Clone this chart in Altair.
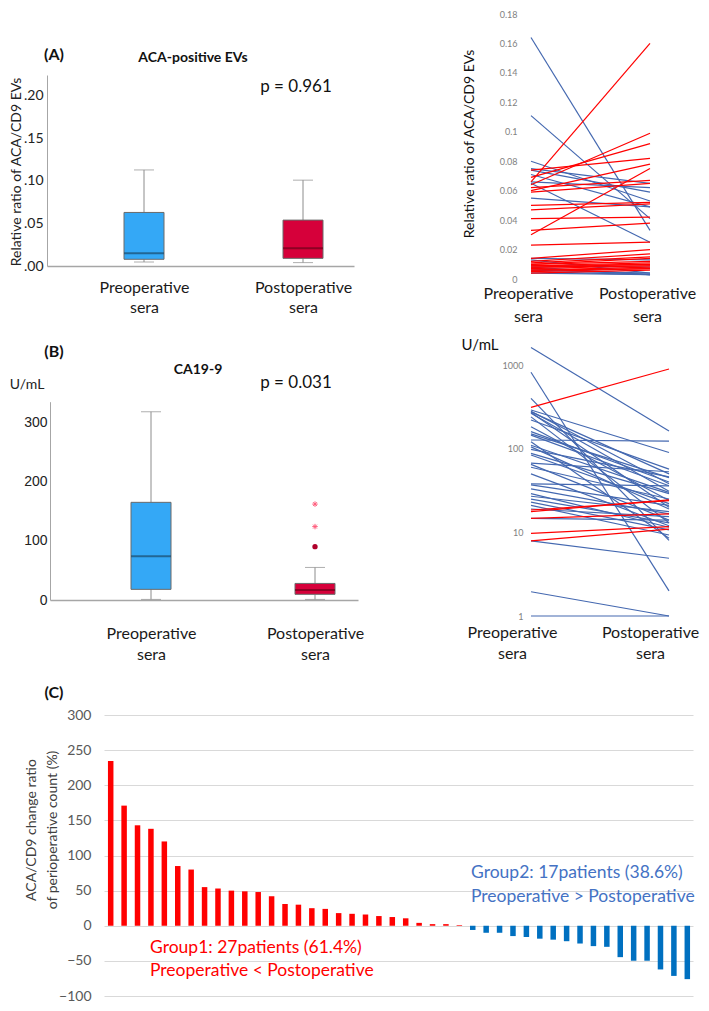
import altair as alt
import pandas as pd

# ---------------- canvas ----------------
W, H = 693, 995
OX, OY = 8, 8


def px(x):
    return x - OX


def py(y):
    return y - OY


FONT = "Lato"
NUMFONT = "Liberation Sans"

# ---------------- data ----------------
groups = ["Preoperative sera", "Postoperative sera"]

# (A) box plot summary of ACA/CD9 ratio
aca_low = [0.0047, 0.0040]
aca_q1 = [0.0079, 0.0090]
aca_median = [0.0150, 0.0210]
aca_q3 = [0.0630, 0.0540]
aca_high = [0.1130, 0.1010]

# (B) box plot summary of CA19-9
ca_low = [1, 1]
ca_q1 = [18, 9.6]
ca_median = [74, 17]
ca_q3 = [165, 28]
ca_high = [318, 55]
ca_outlier_circle = [90]
ca_outlier_star = [124, 162]

# (A) paired lines: increased (red) / decreased (blue)
aca_up_pre = [0.066, 0.064, 0.069, 0.074, 0.060, 0.030, 0.062, 0.059, 0.050, 0.047,
              0.041, 0.033, 0.023, 0.014, 0.012, 0.011, 0.010, 0.010, 0.009, 0.009,
              0.008, 0.008, 0.007, 0.006, 0.006, 0.005, 0.004]
aca_up_post = [0.160, 0.099, 0.092, 0.082, 0.078, 0.075, 0.067, 0.065, 0.052, 0.051,
               0.042, 0.038, 0.025, 0.020, 0.017, 0.015, 0.014, 0.012, 0.011, 0.010,
               0.010, 0.009, 0.009, 0.008, 0.007, 0.007, 0.006]
aca_down_pre = [0.164, 0.111, 0.080, 0.075, 0.074, 0.071, 0.066, 0.065, 0.055, 0.014,
                0.013, 0.009, 0.008, 0.007, 0.006, 0.005, 0.004]
aca_down_post = [0.033, 0.041, 0.053, 0.065, 0.059, 0.049, 0.062, 0.025, 0.049, 0.013,
                 0.004, 0.008, 0.003, 0.003, 0.004, 0.003, 0.003]

# (B) paired lines of CA19-9 (U/mL)
ca_up_pre = [312, 18.5, 17.7, 14.7, 9.7, 7.9]
ca_up_post = [896, 23.9, 24.4, 16.6, 11.7, 10.9]
ca_down_pre = [1620, 820, 400, 290, 280, 275, 270, 265, 240, 220,
               183, 160, 150, 145, 127, 121, 110, 105, 98, 88,
               84, 67, 65, 60, 50, 38, 37, 33, 29, 27,
               25, 23, 21, 19, 14.7, 7.9, 1.95, 1]
ca_down_post = [163, 2, 8, 90, 38, 50, 20, 31, 13, 57,
                24, 40, 45, 36, 123, 8.5, 30, 19, 46, 29,
                22, 53, 14, 25, 12, 36, 21, 16.6, 11.5, 17.7,
                13, 10.7, 9.3, 15.4, 14, 4.9, 1, 1]

# (C) change ratio (%) per patient
change_group1 = [234.6, 171, 143, 138, 120, 85, 80, 55, 53, 50,
                 49, 48, 42, 31, 30, 25, 24, 18, 17, 16,
                 13.8, 12.4, 10.6, 4.1, 2.3, 2.3, 0.9]
change_group2 = [-6, -10, -10, -14.7, -16, -18.4, -19.8, -22, -25.3, -29,
                 -30, -44.7, -49.8, -49.8, -62.2, -71.4, -76]

aca_ticks = [0, 0.05, 0.10, 0.15, 0.20]
aca_line_ticks = [0, 0.02, 0.04, 0.06, 0.08, 0.1, 0.12, 0.14, 0.16, 0.18]
ca_ticks = [0, 100, 200, 300]
ca_log_ticks = [1, 10, 100, 1000]
change_ticks = [-100, -50, 0, 50, 100, 150, 200, 250, 300]

# ---------------- colours ----------------
BOX_BLUE = "#34A8F6"
BOX_RED = "#D6003A"
MED_BLUE = "#1B4A6B"
MED_RED = "#6E0019"
WHISK = "#8C8C8C"
AXIS_GREY = "#A6A6A6"
LINE_RED = "#FF0000"
LINE_BLUE = "#4468B0"
BAR_RED = "#FF0000"
BAR_BLUE = "#0070C0"
TXT_BLUE = "#4472C4"

ANNOT = pd.DataFrame({"k": [0]})


# ---------------- helpers ----------------
def point_scale(domain, start, stop, first, last):
    n = len(domain)
    step = (last - first) / (n - 1)
    outer = (stop - start) - (last - first)
    if outer <= 0:
        return alt.Scale(type="point", domain=domain, range=[start, stop], padding=0, round=False)
    return alt.Scale(type="point", domain=domain, range=[start, stop],
                     padding=outer / (2 * step), align=(first - start) / outer, round=False)


def x_cat_axis(axis_y, pad, line_h, domain=False, size=16, shift=0):
    kw = dict(orient="bottom", offset=axis_y - H, ticks=False, tickSize=0,
              labelPadding=pad, labelExpr="split(datum.label, ' ')",
              labelFontSize=size, labelLineHeight=line_h, labelColor="#1A1A1A",
              labelFont=FONT, labelAngle=0, title=None, grid=False, domain=domain,
              labelOffset=shift)
    if domain:
        kw.update(domainColor=AXIS_GREY, domainWidth=1.5)
    return alt.Axis(**kw)


def note(text, x, y, size, color="#111111", bold=False, angle=0, align="center",
         font=FONT, line_height=None):
    kw = dict(text=text, fontSize=size, color=color, font=font,
              fontWeight="bold" if bold else "normal", align=align, baseline="middle")
    if angle:
        kw["angle"] = angle
    if line_height:
        kw["lineHeight"] = line_height
    return alt.Chart(ANNOT).mark_text(**kw).encode(x=alt.value(px(x)), y=alt.value(py(y)))


def box_panel(stats, xscale, yscale, xaxis, yaxis, fills, meds, extra=()):
    X = alt.X("group:N", scale=xscale, axis=xaxis)

    def Y(f):
        return alt.Y(f"{f}:Q", scale=yscale, axis=yaxis)

    base = alt.Chart(stats)
    w_lo = base.mark_rule(color=WHISK, strokeWidth=1).encode(x=X, y=Y("low"), y2=alt.Y2("q1"))
    w_hi = base.mark_rule(color=WHISK, strokeWidth=1).encode(x=X, y=Y("q3"), y2=alt.Y2("high"))
    c_lo = base.mark_tick(size=20, thickness=1, color=WHISK).encode(x=X, y=Y("low"))
    c_hi = base.mark_tick(size=20, thickness=1, color=WHISK).encode(x=X, y=Y("high"))
    box = base.mark_bar(size=40, stroke="#6A6A6A", strokeWidth=1).encode(
        x=X, y=Y("q1"), y2=alt.Y2("q3"),
        color=alt.Color("group:N", scale=alt.Scale(domain=groups, range=fills), legend=None))
    med = base.mark_tick(size=40, thickness=2).encode(
        x=X, y=Y("median"),
        color=alt.Color("group:N", scale=alt.Scale(domain=groups, range=meds), legend=None))
    layers = [w_lo, w_hi, c_lo, c_hi, box, med]
    for make in extra:
        layers.append(make(X, Y))
    return alt.layer(*layers).resolve_scale(color="independent")


def pair_df(up_pre, up_post, down_pre, down_post):
    rows = []
    for i, (a, b) in enumerate(zip(down_pre, down_post)):
        rows.append(dict(pid=f"d{i}", time=groups[0], value=a, dir="down"))
        rows.append(dict(pid=f"d{i}", time=groups[1], value=b, dir="down"))
    for i, (a, b) in enumerate(zip(up_pre, up_post)):
        rows.append(dict(pid=f"u{i}", time=groups[0], value=a, dir="up"))
        rows.append(dict(pid=f"u{i}", time=groups[1], value=b, dir="up"))
    return pd.DataFrame(rows)


# ---------------- (A) box plot ----------------
aca_stats = pd.DataFrame(dict(group=groups, low=aca_low, q1=aca_q1, median=aca_median,
                              q3=aca_q3, high=aca_high))
a_box = box_panel(
    aca_stats,
    point_scale(groups, px(47), px(354), px(144), px(303)),
    alt.Scale(domain=[0, 0.2247], range=[py(266), py(75)], nice=False, zero=False),
    x_cat_axis(py(266), 13, 20, domain=True),
    alt.Axis(orient="left", offset=-px(47), values=aca_ticks,
             labelExpr="replace(format(datum.value, '.2f'), '0.', '.')",
             domain=True, domainColor=AXIS_GREY, domainWidth=1, ticks=False, tickSize=0,
             labelPadding=4, labelFontSize=14, labelColor="#222222", labelFont=FONT,
             grid=False, title=None, labelOverlap=False),
    [BOX_BLUE, BOX_RED], [MED_BLUE, MED_RED],
)

# ---------------- (A) paired lines ----------------
aca_pairs = pair_df(aca_up_pre, aca_up_post, aca_down_pre, aca_down_post)
a_lines = alt.Chart(aca_pairs).mark_line(strokeWidth=1.2).encode(
    x=alt.X("time:N", scale=point_scale(groups, px(531), px(650), px(531), px(650)),
            axis=x_cat_axis(py(280), 5, 23, shift=-3)),
    y=alt.Y("value:Q", scale=alt.Scale(domain=[0, 0.18], range=[py(279), py(14)], nice=False, zero=False),
            axis=alt.Axis(orient="left", offset=-px(531), values=aca_line_ticks, format="~g",
                          domain=False, ticks=False, tickSize=0, labelPadding=14, labelFontSize=9,
                          labelColor="#7F7F7F", labelFont=FONT, grid=False, title=None,
                          labelOverlap=False)),
    detail="pid:N",
    color=alt.Color("dir:N", scale=alt.Scale(domain=["up", "down"], range=[LINE_RED, LINE_BLUE]),
                    legend=None),
)

# ---------------- (B) box plot ----------------
ca_stats = pd.DataFrame(dict(group=groups, low=ca_low, q1=ca_q1, median=ca_median,
                             q3=ca_q3, high=ca_high))
circle_df = pd.DataFrame({"group": [groups[1]] * len(ca_outlier_circle), "v": ca_outlier_circle})
star_df = pd.DataFrame({"group": [groups[1]] * len(ca_outlier_star), "v": ca_outlier_star})
STAR = "M-1,0L1,0M0,-1L0,1M-0.7,-0.7L0.7,0.7M-0.7,0.7L0.7,-0.7"

b_box = box_panel(
    ca_stats,
    point_scale(groups, px(50), px(358), px(151), px(315)),
    alt.Scale(domain=[0, 335], range=[py(600), py(401.7)], nice=False, zero=False),
    x_cat_axis(py(600), 25, 21, domain=True),
    alt.Axis(orient="left", offset=-px(50), values=ca_ticks, format="d",
             domain=True, domainColor=AXIS_GREY, domainWidth=1, ticks=False, tickSize=0,
             labelPadding=3, labelFontSize=14, labelColor="#222222", labelFont=NUMFONT,
             grid=False, title=None, labelOverlap=False),
    [BOX_BLUE, BOX_RED], [MED_BLUE, MED_RED],
    extra=(
        lambda X, Y: alt.Chart(circle_df).mark_point(filled=True, size=28, color="#B0002B", opacity=1)
        .encode(x=X, y=Y("v")),
        lambda X, Y: alt.Chart(star_df).mark_point(shape=STAR, size=30, filled=False, color="#FF5C7C",
                                                    strokeWidth=1, opacity=1).encode(x=X, y=Y("v")),
    ),
)

# ---------------- (B) paired lines (log) ----------------
ca_pairs = pair_df(ca_up_pre, ca_up_post, ca_down_pre, ca_down_post)
b_lines = alt.Chart(ca_pairs).mark_line(strokeWidth=1.2).encode(
    x=alt.X("time:N", scale=point_scale(groups, px(531), px(669), px(531), px(669)),
            axis=x_cat_axis(py(616), 8, 21, shift=-19)),
    y=alt.Y("value:Q", scale=alt.Scale(type="log", domain=[1, 1000], range=[py(616), py(365)],
                                       nice=False, zero=False),
            axis=alt.Axis(orient="left", offset=-px(531), values=ca_log_ticks, format="d",
                          domain=False, ticks=False, tickSize=0, labelPadding=8, labelFontSize=9,
                          labelColor="#7F7F7F", labelFont=FONT, grid=False, title=None,
                          labelOverlap=False)),
    detail="pid:N",
    color=alt.Color("dir:N", scale=alt.Scale(domain=["up", "down"], range=[LINE_RED, LINE_BLUE]),
                    legend=None),
)

# ---------------- (C) bar chart ----------------
change_vals = change_group1 + change_group2
pids = [f"P{i + 1}" for i in range(len(change_vals))]
change_df = pd.DataFrame({
    "pid": pids,
    "change": change_vals,
    "grp": ["Group1"] * len(change_group1) + ["Group2"] * len(change_group2),
})
c_bars = alt.Chart(change_df).mark_bar(size=5.5).encode(
    x=alt.X("pid:N", scale=point_scale(pids, px(104), px(693), px(110.7), px(687.3)), axis=None),
    y=alt.Y("change:Q", scale=alt.Scale(domain=[-100, 300], range=[py(996), py(715)], nice=False, zero=False),
            axis=alt.Axis(orient="left", offset=-px(104), values=change_ticks, format="d",
                          domain=False, ticks=False, tickSize=0, labelPadding=13, labelFontSize=14,
                          labelColor="#595959", labelFont=FONT, grid=True, gridColor="#D9D9D9",
                          gridWidth=1, title=None, labelOverlap=False)),
    color=alt.Color("grp:N", scale=alt.Scale(domain=["Group1", "Group2"], range=[BAR_RED, BAR_BLUE]),
                    legend=None),
)

# ---------------- annotations ----------------
notes = [
    note("(A)", 54, 55, 16, bold=True),
    note("ACA-positive EVs", 193, 58, 14, bold=True),
    note("p = 0.961", 296, 87, 17),
    note("Relative ratio of ACA/CD9 EVs", 17, 172, 14, color="#222222", angle=270),
    note("Relative ratio of ACA/CD9 EVs", 470, 144, 14, color="#111111", angle=270),
    note("(B)", 54, 352, 16, bold=True),
    note("CA19-9", 198, 370, 14, bold=True),
    note("p = 0.031", 296, 383, 17),
    note("U/mL", 27, 385, 14, color="#222222"),
    note("U/mL", 480, 345, 15, color="#111111"),
    note("(C)", 54, 693, 16, bold=True),
    note(["ACA/CD9 change ratio", "of perioperative count (%)"], 32, 830, 14,
         color="#404040", angle=270, line_height=21),
    note("Group1: 27patients (61.4%)", 150, 948, 17.5, color=BAR_RED, align="left"),
    note("Preoperative < Postoperative", 150, 971, 17.5, color=BAR_RED, align="left"),
    note("Group2: 17patients (38.6%)", 471, 873, 17.5, color=TXT_BLUE, align="left"),
    note("Preoperative > Postoperative", 471, 897, 17.5, color=TXT_BLUE, align="left"),
]

chart = (
    alt.layer(a_box, a_lines, b_box, b_lines, c_bars, *notes)
    .resolve_scale(x="independent", y="independent", color="independent")
    .properties(width=W, height=H, padding=0, autosize=alt.AutoSizeParams(type="none"),
                view=alt.ViewBackground(stroke="transparent", strokeWidth=0))
    .configure_view(stroke="transparent", strokeWidth=0, strokeOpacity=0)
    .configure(font=FONT, background="white")
)

chart.save("out.html", embed_options={"renderer": "svg", "actions": False})
